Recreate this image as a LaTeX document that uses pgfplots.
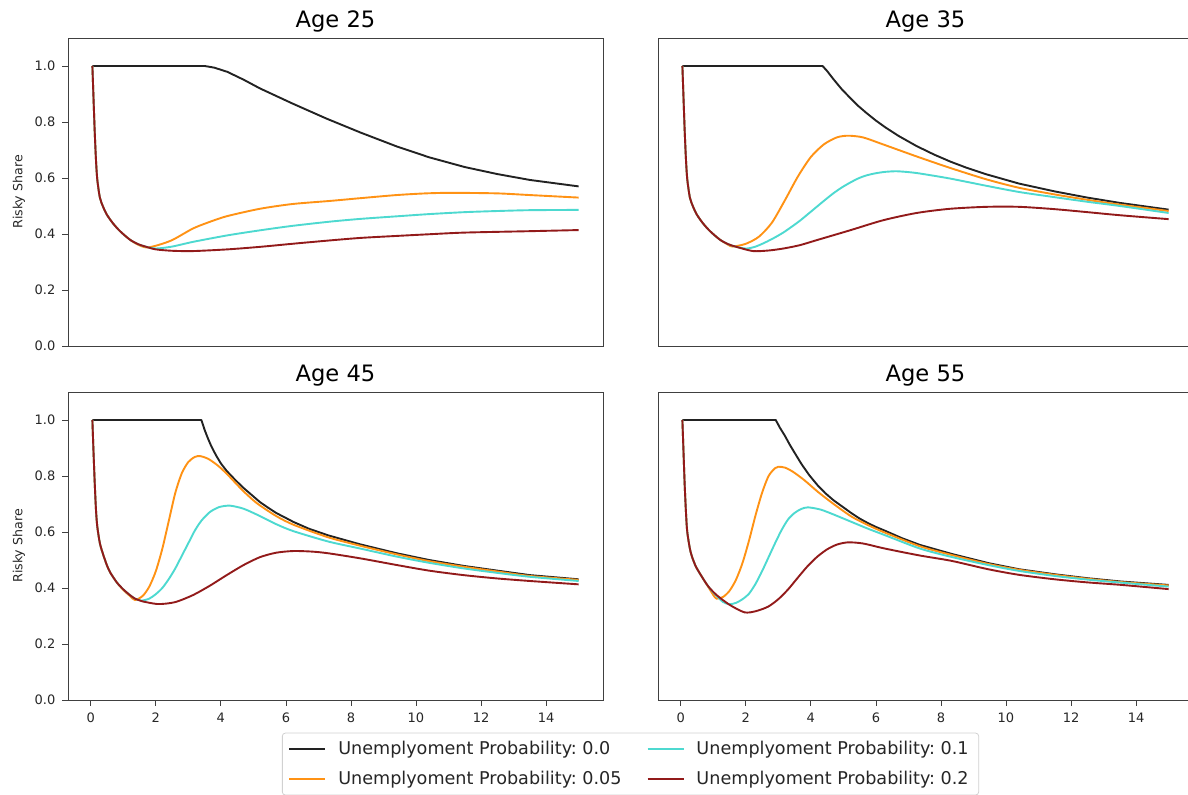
\documentclass[border=0pt]{standalone}
\usepackage{fontspec}
\setmainfont{DejaVu Sans}
\usepackage{pgfplots}
\pgfplotsset{compat=1.18}

\definecolor{ublack}{HTML}{222222}
\definecolor{uorange}{HTML}{FF9214}
\definecolor{ucyan}{HTML}{4DD9D0}
\definecolor{ured}{HTML}{921A1A}

\pgfplotsset{
  panel/.style={
    scale only axis, width=267.5pt, height=154pt,
    xmin=-0.7, xmax=15.75, ymin=0, ymax=1.1,
    xtick={0,2,...,14}, ytick={0,0.2,0.4,0.6,0.8,1.0},
    tick align=outside, major tick length=2.8pt,
    xtick pos=bottom, ytick pos=left,
    tick style={black!75, line width=0.4pt},
    axis line style={black!75, line width=0.45pt},
    ticklabel style={font=\fontsize{6.5}{7}\selectfont, text=black!85},
    yticklabel style={/pgf/number format/.cd, fixed, fixed zerofill, precision=1},
    /pgf/number format/assume math mode=true,
    title style={font=\fontsize{11.3}{13}\selectfont, yshift=-6.5pt},
    ylabel style={font=\fontsize{6.3}{7}\selectfont, text=black!85,
      at={(axis description cs:-0.0916,0.5)}, anchor=center},
    every axis plot/.append style={line width=0.95pt},
  },
  p0/.style={ublack, line join=round},
  p1/.style={uorange, smooth, tension=0.45},
  p2/.style={ucyan, smooth, tension=0.45},
  p3/.style={ured, smooth, tension=0.45},
}

\begin{document}
\frenchspacing
\begin{tikzpicture}
\useasboundingbox (0,0) rectangle (594pt,397.5pt);

% Age 25
\begin{axis}[panel, at={(34pt,224.5pt)}, anchor=south west,
  title={Age 25}, xtick=\empty, ylabel={Risky Share}]
\addplot[p0] coordinates {(0.05,1.0) (3.5,1.0) (3.8,0.994) (4.2,0.979) (4.7,0.951) (5.2,0.92) (5.7,0.893) (6.2,0.866) (7.25,0.812) (8.3,0.762) (9.4,0.713) (10.4,0.674) (11.5,0.639) (12.5,0.614) (13.5,0.593) (15,0.570)};
\addplot[p1] coordinates {(0.05,1.0) (0.08,0.9) (0.12,0.77) (0.16,0.665) (0.2,0.595) (0.28,0.53) (0.38,0.497) (0.5,0.468) (0.69,0.437) (0.9,0.41) (1.2,0.38) (1.45,0.362) (1.7,0.352) (2.0,0.358) (2.5,0.378) (3.15,0.42) (3.7,0.445) (4.2,0.464) (5.2,0.49) (6.2,0.507) (7.35,0.518) (8.3,0.528) (9.4,0.539) (10.3,0.545) (11.1,0.547) (12.5,0.545) (13.5,0.539) (15,0.530)};
\addplot[p2] coordinates {(0.05,1.0) (0.08,0.9) (0.12,0.77) (0.16,0.665) (0.2,0.595) (0.28,0.53) (0.38,0.497) (0.5,0.468) (0.69,0.437) (0.9,0.41) (1.2,0.38) (1.45,0.364) (1.71,0.354) (2.0,0.348) (2.5,0.355) (3.15,0.372) (4.2,0.395) (5.2,0.413) (6.2,0.429) (7.35,0.444) (8.3,0.454) (9.4,0.463) (10.4,0.471) (11.5,0.478) (12.5,0.482) (13.5,0.485) (15,0.486)};
\addplot[p3] coordinates {(0.05,1.0) (0.08,0.9) (0.12,0.77) (0.16,0.665) (0.2,0.595) (0.28,0.53) (0.38,0.497) (0.5,0.468) (0.69,0.437) (0.9,0.41) (1.2,0.38) (1.45,0.364) (1.71,0.354) (2.0,0.345) (2.5,0.34) (3.15,0.339) (4.2,0.345) (5.2,0.354) (6.2,0.365) (7.35,0.377) (8.3,0.386) (9.4,0.393) (10.4,0.399) (11.5,0.405) (13.5,0.41) (15,0.414)};
\end{axis}

% Age 35
\begin{axis}[panel, at={(329pt,224.5pt)}, anchor=south west,
  title={Age 35}, xtick=\empty, ytick=\empty]
\addplot[p0] coordinates {(0.05,1.0) (4.36,1.0) (4.5,0.982) (4.7,0.952) (4.95,0.917) (5.2,0.887) (5.45,0.858) (5.7,0.833) (6.0,0.805) (6.3,0.78) (6.7,0.75) (7.25,0.714) (7.8,0.683) (8.3,0.658) (8.8,0.636) (9.4,0.613) (10.4,0.58) (11.5,0.552) (12.5,0.53) (13.5,0.511) (15,0.487)};
\addplot[p1] coordinates {(0.05,1.0) (0.08,0.9) (0.12,0.77) (0.16,0.665) (0.2,0.595) (0.28,0.53) (0.38,0.497) (0.5,0.468) (0.69,0.437) (0.9,0.41) (1.2,0.38) (1.45,0.362) (1.6,0.355) (2.0,0.365) (2.4,0.39) (2.8,0.44) (3.2,0.52) (3.6,0.605) (4.0,0.675) (4.4,0.72) (4.8,0.745) (5.15,0.751) (5.6,0.745) (6.22,0.72) (7.25,0.677) (8.28,0.636) (9.4,0.595) (10.4,0.565) (11.46,0.542) (12.5,0.522) (13.5,0.505) (15,0.482)};
\addplot[p2] coordinates {(0.05,1.0) (0.08,0.9) (0.12,0.77) (0.16,0.665) (0.2,0.595) (0.28,0.53) (0.38,0.497) (0.5,0.468) (0.69,0.437) (0.9,0.41) (1.2,0.38) (1.45,0.364) (1.71,0.354) (2.02,0.348) (2.3,0.355) (2.6,0.37) (2.9,0.388) (3.15,0.405) (3.4,0.425) (3.66,0.447) (3.9,0.47) (4.18,0.497) (4.45,0.523) (4.7,0.546) (4.95,0.566) (5.2,0.583) (5.45,0.598) (5.7,0.609) (6.0,0.617) (6.3,0.622) (6.63,0.624) (7.0,0.621) (7.35,0.616) (8.28,0.598) (9.4,0.572) (10.4,0.55) (11.46,0.532) (12.5,0.515) (13.5,0.5) (15,0.475)};
\addplot[p3] coordinates {(0.05,1.0) (0.08,0.9) (0.12,0.77) (0.16,0.665) (0.2,0.595) (0.28,0.53) (0.38,0.497) (0.5,0.468) (0.69,0.437) (0.9,0.41) (1.2,0.38) (1.45,0.364) (1.71,0.354) (2.22,0.339) (2.7,0.341) (3.15,0.348) (3.66,0.36) (4.18,0.378) (5.2,0.413) (6.22,0.449) (7.25,0.475) (8.28,0.49) (9.4,0.497) (10.4,0.497) (11.46,0.489) (12.5,0.478) (13.5,0.467) (15,0.453)};
\end{axis}

% Age 45
\begin{axis}[panel, at={(34pt,47.5pt)}, anchor=south west,
  title={Age 45}, ylabel={Risky Share}]
\addplot[p0] coordinates {(0.05,1.0) (3.4,1.0) (3.5,0.965) (3.6,0.935) (3.7,0.908) (3.85,0.874) (4.0,0.845) (4.18,0.818) (4.45,0.785) (4.7,0.757) (5.0,0.727) (5.2,0.707) (5.45,0.687) (5.7,0.668) (6.0,0.65) (6.23,0.636) (6.7,0.612) (7.3,0.588) (8.28,0.556) (9.41,0.524) (10.4,0.5) (11.46,0.479) (12.5,0.462) (13.5,0.446) (15,0.431)};
\addplot[p1] coordinates {(0.05,1.0) (0.08,0.9) (0.12,0.78) (0.16,0.68) (0.2,0.62) (0.28,0.56) (0.38,0.52) (0.5,0.48) (0.6,0.455) (0.8,0.42) (1.0,0.393) (1.2,0.372) (1.36,0.357) (1.6,0.372) (1.8,0.405) (2.0,0.46) (2.2,0.54) (2.4,0.64) (2.6,0.74) (2.8,0.81) (3.0,0.85) (3.2,0.868) (3.36,0.871) (3.6,0.862) (3.9,0.838) (4.18,0.808) (4.45,0.775) (4.7,0.745) (5.0,0.713) (5.2,0.695) (5.7,0.657) (6.23,0.626) (7.3,0.581) (8.28,0.551) (9.41,0.52) (10.4,0.496) (11.46,0.476) (12.5,0.459) (13.5,0.443) (15,0.429)};
\addplot[p2] coordinates {(0.05,1.0) (0.08,0.9) (0.12,0.78) (0.16,0.68) (0.2,0.62) (0.28,0.56) (0.38,0.52) (0.5,0.48) (0.6,0.455) (0.8,0.42) (1.0,0.395) (1.2,0.375) (1.36,0.362) (1.56,0.355) (1.8,0.362) (2.0,0.378) (2.2,0.4) (2.4,0.432) (2.6,0.47) (2.8,0.515) (3.0,0.56) (3.2,0.605) (3.4,0.64) (3.66,0.671) (3.95,0.689) (4.28,0.694) (4.7,0.683) (5.2,0.657) (5.7,0.628) (6.23,0.603) (7.3,0.566) (8.28,0.541) (9.41,0.512) (10.4,0.49) (11.46,0.47) (12.5,0.454) (13.5,0.44) (15,0.425)};
\addplot[p3] coordinates {(0.05,1.0) (0.08,0.9) (0.12,0.78) (0.16,0.68) (0.2,0.62) (0.28,0.56) (0.38,0.52) (0.5,0.48) (0.6,0.455) (0.8,0.42) (1.0,0.395) (1.2,0.375) (1.36,0.362) (1.6,0.352) (2.02,0.343) (2.3,0.344) (2.64,0.351) (3.15,0.375) (3.66,0.408) (4.18,0.446) (4.7,0.482) (5.2,0.51) (5.7,0.526) (6.23,0.532) (6.8,0.53) (7.3,0.524) (8.28,0.506) (9.41,0.482) (10.4,0.462) (11.46,0.446) (12.5,0.434) (13.5,0.425) (15,0.413)};
\end{axis}

% Age 55
\begin{axis}[panel, at={(329pt,47.5pt)}, anchor=south west,
  title={Age 55}, ytick=\empty,
  legend columns=2, legend cell align=left,
  legend style={at={(-0.0514,-0.208)}, anchor=center,
    draw=black!18, rounded corners=1.5pt, line width=0.4pt,
    font=\fontsize{8.8}{10}\selectfont, text=black!85, row sep=2.6pt,
    /tikz/every even column/.append style={column sep=10.5pt}},
  legend image code/.code={\draw[#1] (0pt,0pt) -- (18pt,0pt); \path (22pt,0pt);},
  legend entries={Unemplyoment Probability: 0.0, Unemplyoment Probability: 0.1,
    Unemplyoment Probability: 0.05, Unemplyoment Probability: 0.2}]
\addlegendimage{ublack, line width=0.95pt}
\addlegendimage{ucyan, line width=0.95pt}
\addlegendimage{uorange, line width=0.95pt}
\addlegendimage{ured, line width=0.95pt}
\addplot[p0] coordinates {(0.05,1.0) (2.92,1.0) (3.05,0.972) (3.2,0.944) (3.35,0.912) (3.5,0.883) (3.71,0.843) (3.95,0.803) (4.22,0.765) (4.45,0.738) (4.7,0.713) (5.0,0.688) (5.25,0.667) (5.5,0.648) (5.75,0.632) (6.0,0.618) (6.27,0.605) (6.8,0.578) (7.35,0.554) (8.32,0.522) (9.45,0.489) (10.4,0.467) (11.5,0.449) (12.5,0.435) (13.55,0.423) (15,0.411)};
\addplot[p1] coordinates {(0.05,1.0) (0.08,0.9) (0.12,0.77) (0.16,0.67) (0.2,0.6) (0.3,0.53) (0.45,0.48) (0.65,0.44) (0.85,0.403) (1.0,0.375) (1.1,0.362) (1.3,0.368) (1.5,0.39) (1.7,0.43) (1.9,0.49) (2.1,0.57) (2.3,0.66) (2.5,0.74) (2.7,0.8) (2.9,0.828) (3.0,0.833) (3.2,0.83) (3.45,0.815) (3.8,0.785) (4.22,0.743) (4.7,0.7) (5.25,0.655) (5.75,0.625) (6.27,0.598) (7.35,0.549) (8.32,0.518) (9.45,0.486) (10.4,0.465) (11.5,0.447) (12.5,0.433) (13.55,0.421) (15,0.409)};
\addplot[p2] coordinates {(0.05,1.0) (0.08,0.9) (0.12,0.77) (0.16,0.67) (0.2,0.6) (0.3,0.53) (0.45,0.48) (0.65,0.44) (0.85,0.405) (1.05,0.378) (1.3,0.35) (1.5,0.342) (1.7,0.347) (1.9,0.36) (2.1,0.38) (2.3,0.415) (2.5,0.46) (2.7,0.51) (2.9,0.56) (3.1,0.607) (3.3,0.645) (3.5,0.668) (3.7,0.682) (3.91,0.688) (4.3,0.68) (4.73,0.661) (5.25,0.636) (5.75,0.612) (6.27,0.589) (7.35,0.541) (8.32,0.511) (9.45,0.482) (10.4,0.461) (11.5,0.443) (12.5,0.43) (13.55,0.419) (15,0.405)};
\addplot[p3] coordinates {(0.05,1.0) (0.08,0.9) (0.12,0.77) (0.16,0.67) (0.2,0.6) (0.3,0.53) (0.45,0.48) (0.65,0.44) (0.85,0.405) (1.1,0.375) (1.5,0.34) (1.96,0.313) (2.3,0.317) (2.68,0.333) (3.0,0.36) (3.3,0.395) (3.6,0.437) (3.9,0.478) (4.2,0.512) (4.5,0.538) (4.8,0.555) (5.14,0.563) (5.6,0.559) (6.27,0.541) (7.35,0.516) (8.32,0.497) (9.45,0.467) (10.4,0.447) (11.5,0.431) (12.5,0.42) (13.55,0.411) (15,0.396)};
\end{axis}
\end{tikzpicture}
\end{document}
